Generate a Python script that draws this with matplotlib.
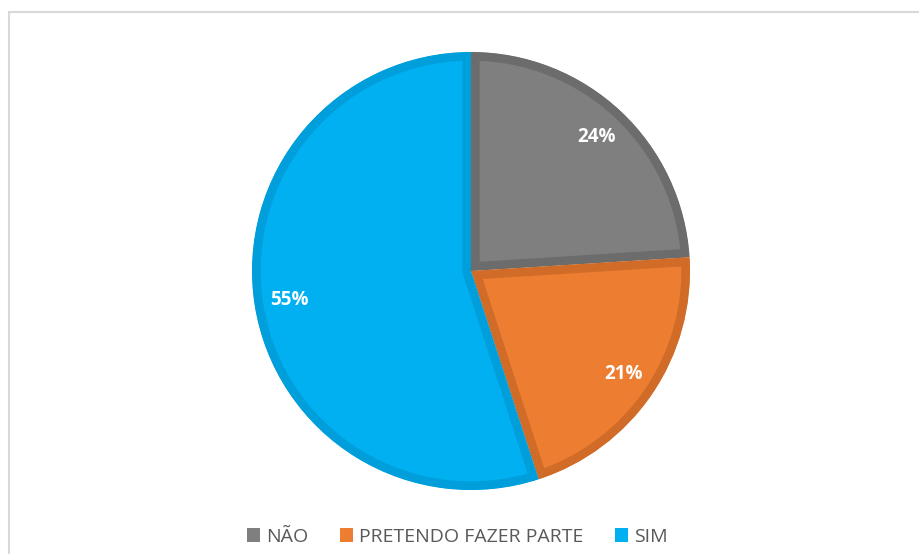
import matplotlib

matplotlib.use("Agg")
import matplotlib.pyplot as plt
from matplotlib.patches import Rectangle

labels = ["NÃO", "PRETENDO FAZER PARTE", "SIM"]
values = [24, 21, 55]
colors = ["#7F7F7F", "#ED7D31", "#00B0F0"]
edge_colors = ["#6C6C6C", "#D06C28", "#009FDB"]

plt.rcParams["font.family"] = ["Open Sans", "DejaVu Sans"]

W, H = 920, 554
fig = plt.figure(figsize=(W / 100, H / 100), dpi=100)

# pie centre ~ (471, 271) px, radius ~219 px
cx, cy, r = 471, 271, 219
ax = fig.add_axes([(cx - r) / W, (H - cy - r) / H, 2 * r / W, 2 * r / H])

wedges, texts, autotexts = ax.pie(
    values,
    colors=colors,
    startangle=90,
    counterclock=False,
    autopct="%.0f%%",
    pctdistance=0.84,
    textprops={"color": "white", "fontsize": 13.5, "fontweight": "bold"},
)
ax.set_xlim(-1, 1)
ax.set_ylim(-1, 1)
ax.set_aspect("equal")

for w, ec in zip(wedges, edge_colors):
    # stroke only inside the wedge, like the office-style border
    w.set_edgecolor(ec)
    w.set_linewidth(12.5)
    w.set_joinstyle("miter")
    w.set_clip_on(True)
    w.set_clip_box(None)
    w.set_clip_path(w.get_path(), w.get_transform())

fig.legend(
    wedges,
    labels,
    loc="center",
    bbox_to_anchor=(0.497, 1 - 537 / H),
    ncol=3,
    frameon=False,
    handlelength=0.7,
    handleheight=0.7,
    handletextpad=0.3,
    columnspacing=1.6,
    fontsize=14,
    labelcolor="#595959",
)
for h in fig.legends[0].legend_handles:
    h.set_linewidth(0)

# light chart-area border
fig.add_artist(Rectangle((8.5 / W, -0.5), 2, 1.5 - 11.5 / H, transform=fig.transFigure,
                         fill=False, edgecolor="#D9D9D9", linewidth=1.5))

fig.savefig("out.png", dpi=100, facecolor="white")
plt.close(fig)
